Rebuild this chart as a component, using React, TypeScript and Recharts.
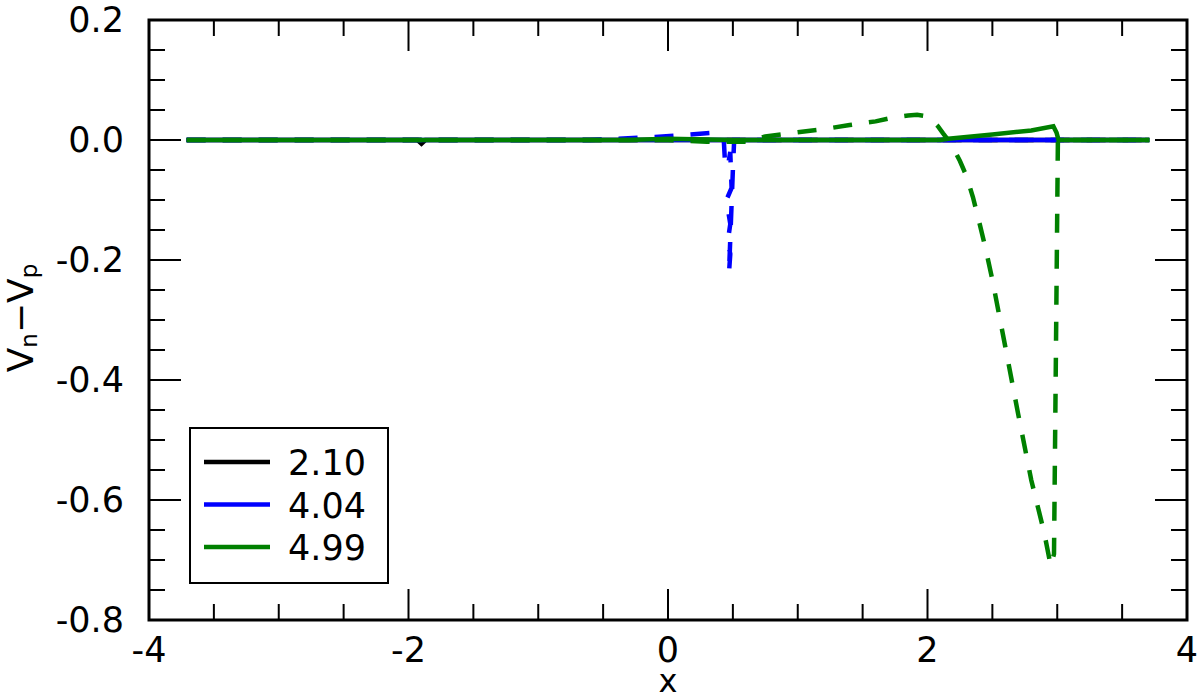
import { LineChart, Line, XAxis, YAxis, ReferenceArea, Legend } from "recharts";

const FONT = "DejaVu Sans";
const PLOT_LEFT = 149;
const PLOT_RIGHT = 1187;
const PLOT_TOP = 20;
const PLOT_BOTTOM = 620;

const xMajor = [-4, -2, 0, 2, 4];
const xMinor = [-3.5, -3, -2.5, -1.5, -1, -0.5, 0.5, 1, 1.5, 2.5, 3, 3.5];
const yMajor = [-0.8, -0.6, -0.4, -0.2, 0, 0.2];
const yMinor = [-0.75, -0.7, -0.65, -0.55, -0.5, -0.45, -0.35, -0.3, -0.25, -0.15, -0.1, -0.05, 0.05, 0.1, 0.15];
const yLabels = ["-0.8", "-0.6", "-0.4", "-0.2", "0.0", "0.2"];

const seriesNames = ["2.10", "4.04", "4.99"];
const seriesColors = ["#000000", "#0000ff", "#008000"];

// t = 2.10
const black = [
  { x: -3.71, y: 0 }, { x: -1.93, y: 0 }, { x: -1.9, y: -0.006 }, { x: -1.87, y: 0 }, { x: 3.71, y: 0 },
];
const blackDashed = [{ x: -3.71, y: 0 }, { x: 3.71, y: 0 }];

// t = 4.04
const blue = [{ x: -3.71, y: 0 }, { x: 3.71, y: 0 }];
const blueDashed = [
  { x: -3.71, y: 0 }, { x: -0.6, y: 0 }, { x: -0.1, y: 0.005 }, { x: 0.1, y: 0.008 },
  { x: 0.35, y: 0.012 }, { x: 0.41, y: 0.01 }, { x: 0.43, y: 0.0 }, { x: 0.44, y: -0.04 },
  { x: 0.46, y: -0.045 }, { x: 0.48, y: -0.02 }, { x: 0.49, y: -0.08 }, { x: 0.45, y: -0.1 },
  { x: 0.48, y: -0.14 }, { x: 0.46, y: -0.17 }, { x: 0.48, y: -0.19 }, { x: 0.47, y: -0.222 },
  { x: 0.5, y: -0.05 }, { x: 0.51, y: 0 }, { x: 3.71, y: 0 },
];

// t = 4.99
const green = [
  { x: -3.71, y: 0 }, { x: -0.3, y: 0 }, { x: 0.0, y: 0.002 }, { x: 0.5, y: 0.0 },
  { x: 2.1, y: 0.0 }, { x: 2.16, y: 0.002 }, { x: 2.5, y: 0.009 }, { x: 2.8, y: 0.016 },
  { x: 2.97, y: 0.023 }, { x: 2.995, y: 0.012 }, { x: 3.01, y: 0 }, { x: 3.71, y: 0 },
];
const greenDashed = [
  { x: -3.71, y: 0 }, { x: -0.5, y: 0 }, { x: 0.0, y: 0.0 }, { x: 0.3, y: -0.003 },
  { x: 0.6, y: -0.003 }, { x: 0.75, y: 0.006 }, { x: 1.0, y: 0.013 }, { x: 1.2, y: 0.018 },
  { x: 1.4, y: 0.025 }, { x: 1.6, y: 0.031 }, { x: 1.75, y: 0.038 }, { x: 1.85, y: 0.041 },
  { x: 1.92, y: 0.042 }, { x: 1.98, y: 0.04 }, { x: 2.03, y: 0.034 }, { x: 2.08, y: 0.023 },
  { x: 2.12, y: 0.011 }, { x: 2.16, y: 0.0 }, { x: 2.2, y: -0.014 }, { x: 2.25, y: -0.035 },
  { x: 2.3, y: -0.06 }, { x: 2.35, y: -0.095 }, { x: 2.4, y: -0.138 }, { x: 2.45, y: -0.183 },
  { x: 2.5, y: -0.233 }, { x: 2.6, y: -0.345 }, { x: 2.7, y: -0.458 }, { x: 2.8, y: -0.567 },
  { x: 2.9, y: -0.655 }, { x: 2.95, y: -0.71 }, { x: 2.975, y: -0.69 }, { x: 2.99, y: -0.35 },
  { x: 3.005, y: 0 }, { x: 3.71, y: 0 },
];

function XTick(props: any) {
  const { x, payload } = props;
  const i = xMajor.indexOf(payload.value);
  const len = i >= 0 ? 31 : 16;
  return (
    <g>
      <line x1={x} x2={x} y1={PLOT_BOTTOM} y2={PLOT_BOTTOM - len} stroke="#000" strokeWidth={2} />
      <line x1={x} x2={x} y1={PLOT_TOP} y2={PLOT_TOP + len} stroke="#000" strokeWidth={2} />
      {i >= 0 && (
        <text x={x} y={662} textAnchor="middle" fontFamily={FONT} fontSize={35} fill="#000">
          {String(payload.value)}
        </text>
      )}
    </g>
  );
}

function YTick(props: any) {
  const { y, payload } = props;
  const i = yMajor.indexOf(payload.value);
  const len = i >= 0 ? 32 : 16;
  return (
    <g>
      <line x1={PLOT_LEFT} x2={PLOT_LEFT + len} y1={y} y2={y} stroke="#000" strokeWidth={2} />
      <line x1={PLOT_RIGHT} x2={PLOT_RIGHT - len} y1={y} y2={y} stroke="#000" strokeWidth={2} />
      {i >= 0 && (
        <text x={124} y={y + 12} textAnchor="end" fontFamily={FONT} fontSize={35} fill="#000">
          {yLabels[i]}
        </text>
      )}
    </g>
  );
}

function YLabel() {
  return (
    <text transform="translate(33, 318) rotate(-90)" textAnchor="middle" fontFamily={FONT} fontSize={36} fill="#000">
      <tspan>V</tspan>
      <tspan fontSize={23} dy={4}>n</tspan>
      <tspan dy={-4}>−V</tspan>
      <tspan fontSize={23} dy={4}>p</tspan>
    </text>
  );
}

function XLabel() {
  return (
    <text x={668} y={692} textAnchor="middle" fontFamily={FONT} fontSize={32} fill="#000">
      x
    </text>
  );
}

function LegendBox() {
  return (
    <svg width={200} height={157} style={{ display: "block" }}>
      <rect x={1} y={1} width={198} height={155} fill="#fff" stroke="#000" strokeWidth={2} />
      {seriesNames.map((name, i) => (
        <g key={name}>
          <line x1={15} x2={81} y1={35 + i * 42.5} y2={35 + i * 42.5} stroke={seriesColors[i]} strokeWidth={4.5} />
          <text x={99} y={48 + i * 42.5} fontFamily={FONT} fontSize={35} fill="#000">
            {name}
          </text>
        </g>
      ))}
    </svg>
  );
}

export default function App() {
  return (
    <div style={{ position: "absolute", left: 0, top: 0, width: 1200, height: 700, background: "#fff" }}>
      <LineChart width={1200} height={700} margin={{ top: PLOT_TOP, right: 1200 - PLOT_RIGHT, bottom: 0, left: 0 }}>
        <XAxis
          type="number"
          dataKey="x"
          domain={[-4, 4]}
          ticks={[...xMajor, ...xMinor]}
          interval={0}
          height={80}
          axisLine={false}
          tickLine={false}
          tick={<XTick />}
          allowDataOverflow
          label={<XLabel />}
        />
        <YAxis
          type="number"
          dataKey="y"
          domain={[-0.8, 0.2]}
          ticks={[...yMajor, ...yMinor]}
          interval={0}
          width={PLOT_LEFT}
          axisLine={false}
          tickLine={false}
          tick={<YTick />}
          allowDataOverflow
          label={<YLabel />}
        />
        <ReferenceArea x1={-4} x2={4} y1={-0.8} y2={0.2} fill="none" stroke="#000" strokeWidth={3} ifOverflow="visible" />
        <Line data={blackDashed} dataKey="y" stroke={seriesColors[0]} strokeWidth={4.5} strokeDasharray="19 17" dot={false} isAnimationActive={false} />
        <Line data={black} dataKey="y" stroke={seriesColors[0]} strokeWidth={4.5} dot={false} isAnimationActive={false} />
        <Line data={blueDashed} dataKey="y" stroke={seriesColors[1]} strokeWidth={4.5} strokeDasharray="19 17" dot={false} isAnimationActive={false} />
        <Line data={blue} dataKey="y" stroke={seriesColors[1]} strokeWidth={4.5} dot={false} isAnimationActive={false} />
        <Line data={greenDashed} dataKey="y" stroke={seriesColors[2]} strokeWidth={4.5} strokeDasharray="19 17" dot={false} isAnimationActive={false} />
        <Line data={green} dataKey="y" stroke={seriesColors[2]} strokeWidth={4.5} dot={false} isAnimationActive={false} />
        <Legend
          layout="vertical"
          align="center"
          verticalAlign="middle"
          content={() => <LegendBox />}
          wrapperStyle={{ left: 189, top: 427, width: 200, height: 157 }}
        />
      </LineChart>
    </div>
  );
}
